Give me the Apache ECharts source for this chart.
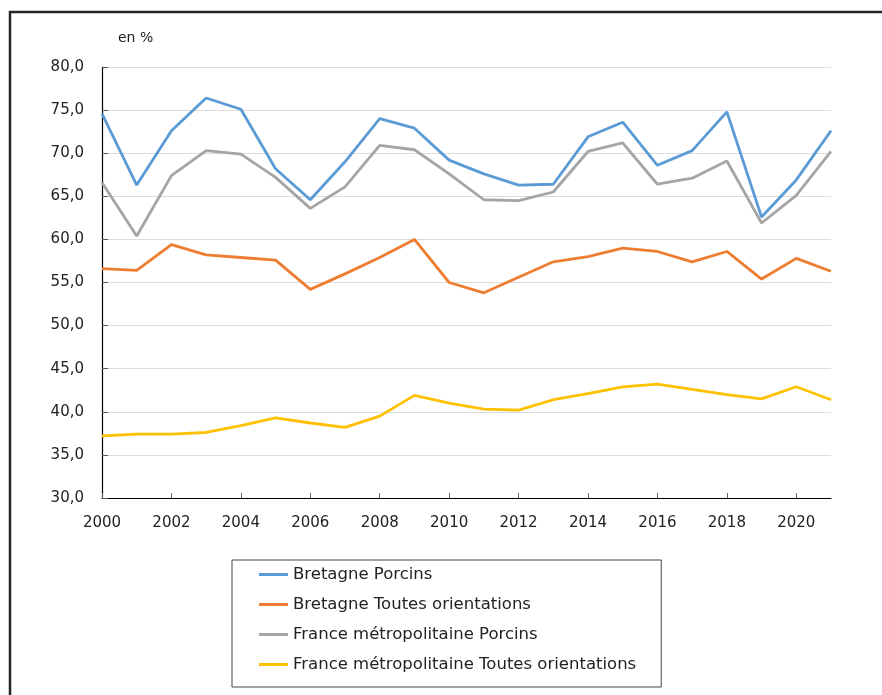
<!DOCTYPE html>
<html>
<head>
<meta charset="utf-8">
<script src="https://cdn.jsdelivr.net/npm/echarts@6/dist/echarts.min.js"></script>
<style>
  html, body { margin: 0; padding: 0; background: #fff; }
  #chart { width: 882px; height: 695px; }
</style>
</head>
<body>
<div id="chart"></div>
<script>
// années
var years = ['2000', '2001', '2002', '2003', '2004', '2005', '2006', '2007', '2008', '2009', '2010',
    '2011', '2012', '2013', '2014', '2015', '2016', '2017', '2018', '2019', '2020', '2021'];

// séries (en %)
var bretagnePorcins = [74.6, 66.3, 72.6, 76.4, 75.1, 68.2, 64.6, 69.0, 74.0, 72.9, 69.2,
    67.6, 66.3, 66.4, 71.9, 73.6, 68.6, 70.3, 74.8, 62.6, 66.9, 72.6];
var bretagneToutes = [56.6, 56.4, 59.4, 58.2, 57.9, 57.6, 54.2, 56.0, 57.9, 60.0, 55.0,
    53.8, 55.6, 57.4, 58.0, 59.0, 58.6, 57.4, 58.6, 55.4, 57.8, 56.3];
var francePorcins = [66.6, 60.4, 67.4, 70.3, 69.9, 67.2, 63.6, 66.1, 70.9, 70.4, 67.6,
    64.6, 64.5, 65.5, 70.2, 71.2, 66.4, 67.1, 69.1, 61.9, 65.1, 70.2];
var franceToutes = [37.2, 37.4, 37.4, 37.6, 38.4, 39.3, 38.7, 38.2, 39.5, 41.9, 41.0,
    40.3, 40.2, 41.4, 42.1, 42.9, 43.2, 42.6, 42.0, 41.5, 42.9, 41.4];

var seriesNames = ['Bretagne Porcins', 'Bretagne Toutes orientations',
    'France métropolitaine Porcins', 'France métropolitaine Toutes orientations'];

var police = 'DejaVu Sans';

var myChart = echarts.init(document.getElementById('chart'));

function ligne(name, data) {
    return {
        name: name,
        type: 'line',
        data: data,
        showSymbol: false,
        symbol: 'none',
        lineStyle: { width: 2.8 }
    };
}

var option = {
    animation: false,
    color: ['#5B9BD5', '#ED7D31', '#A5A5A5', '#FFC000'],
    textStyle: { fontFamily: police },
    title: {
        text: 'en %',
        left: 113,
        top: 26,
        textStyle: { fontSize: 14, fontWeight: 'normal', color: '#222', fontFamily: police }
    },
    /* cadre */
    graphic: [{
        type: 'polyline',
        shape: { points: [[10, 700], [10, 12], [890, 12]] },
        style: { stroke: '#262626', lineWidth: 2.5, fill: null },
        silent: true
    }],
    grid: {
        left: 102,
        right: 51,
        top: 67,
        bottom: 197
    },
    legend: {
        data: seriesNames,
        orient: 'vertical',
        left: 232,
        top: 560,
        icon: 'rect',
        itemWidth: 29,
        itemHeight: 3,
        itemGap: 13,
        padding: [6, 25, 14, 27],
        borderColor: '#444',
        borderWidth: 1,
        textStyle: { fontSize: 16.5, color: '#222', fontFamily: police, lineHeight: 17 }
    },
    xAxis: {
        type: 'category',
        boundaryGap: false,
        data: years,
        axisLine: { show: true, lineStyle: { color: '#000', width: 1.2 } },
        axisTick: {
            show: true,
            inside: true,
            length: 5,
            interval: 1,
            lineStyle: { color: '#666' }
        },
        axisLabel: {
            interval: 1,
            fontSize: 15,
            color: '#222',
            margin: 18
        },
        splitLine: { show: false }
    },
    yAxis: {
        type: 'value',
        min: 30,
        max: 80,
        interval: 5,
        axisLine: { show: true, lineStyle: { color: '#000', width: 1.2 } },
        axisTick: {
            show: true,
            inside: true,
            length: 6,
            lineStyle: { color: '#555' }
        },
        axisLabel: {
            fontSize: 15,
            color: '#222',
            margin: 18,
            formatter: function (v) { return v.toFixed(1).replace('.', ','); }
        },
        splitLine: { show: true, lineStyle: { color: '#dcdcdc', width: 1.2 } }
    },
    series: [
        ligne(seriesNames[0], bretagnePorcins),
        ligne(seriesNames[1], bretagneToutes),
        ligne(seriesNames[2], francePorcins),
        ligne(seriesNames[3], franceToutes)
    ]
};
myChart.setOption(option);
</script>
</body>
</html>
